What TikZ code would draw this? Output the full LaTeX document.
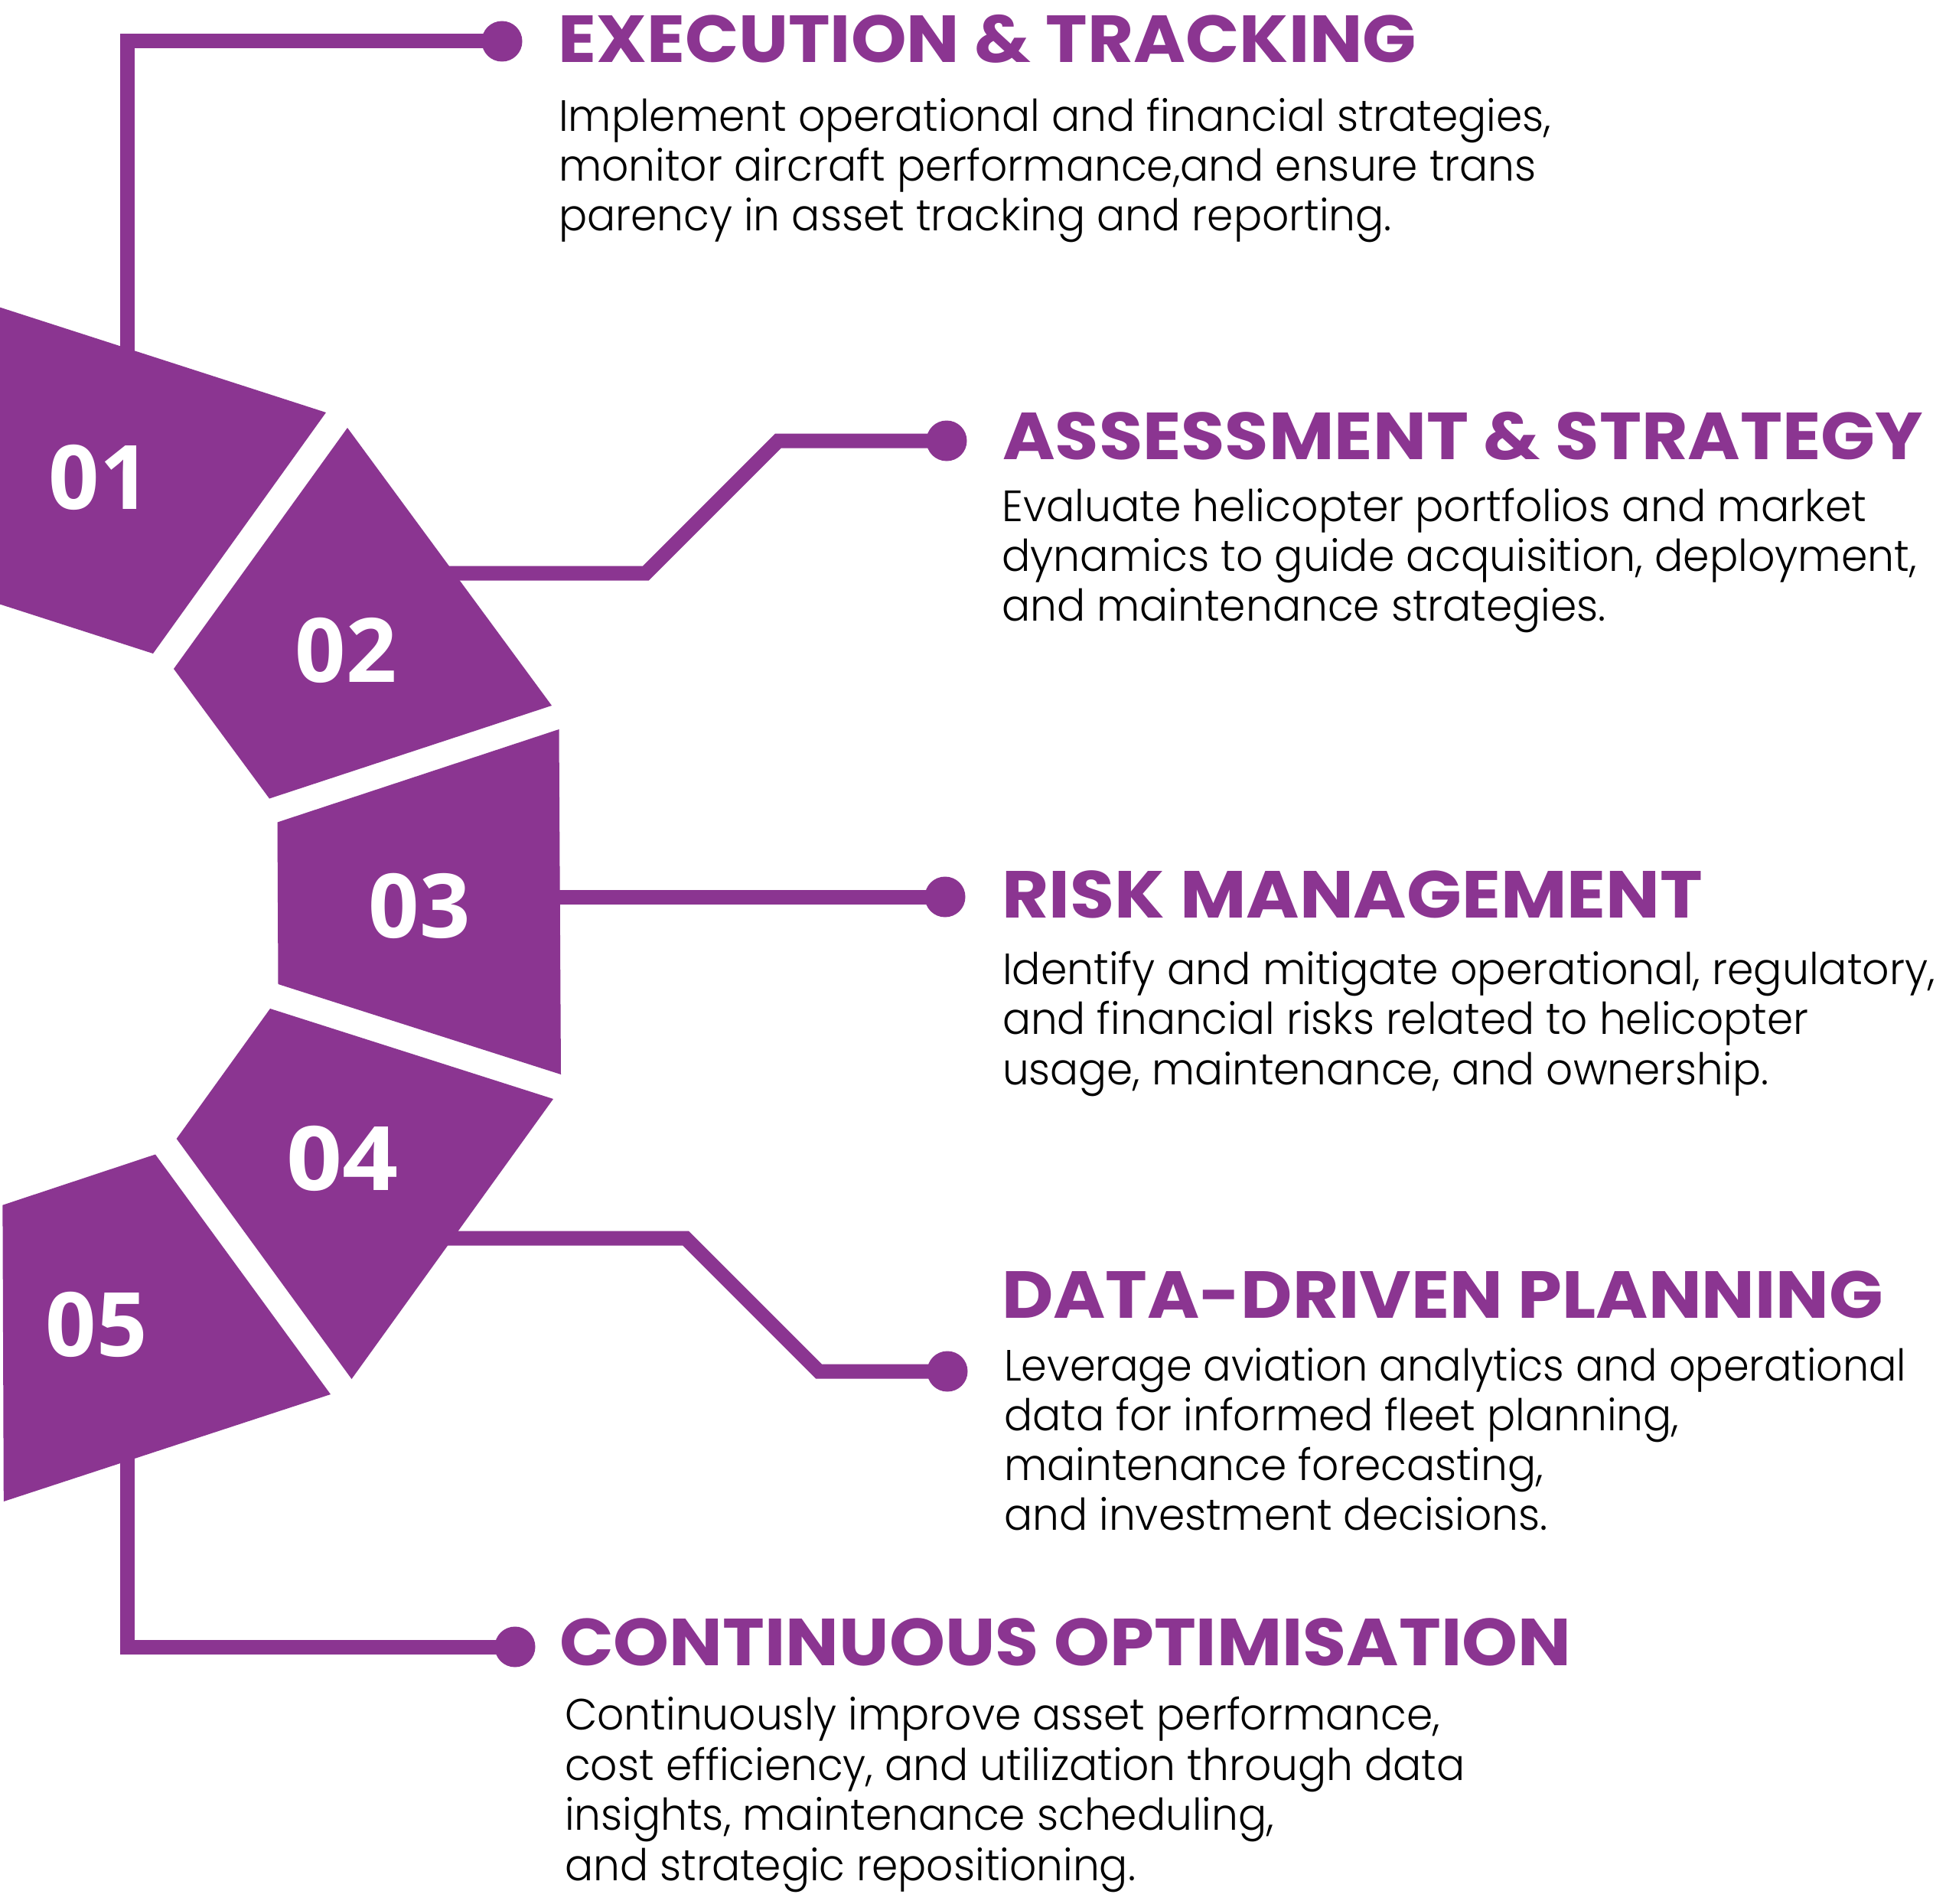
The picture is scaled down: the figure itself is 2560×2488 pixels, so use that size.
\documentclass[tikz,border=0pt]{standalone}
\usepackage{fontspec}
\usepackage{graphicx}
\setmainfont{Poppins}
\IfFontExistsTF{Poppins Light}{\newfontfamily\bodyfamily{Poppins Light}}{\newfontfamily\bodyfamily{Poppins}}
\newfontfamily\numfamily{Open Sans}
\definecolor{brandpurple}{HTML}{8B3591}
\newsavebox\measbox
\newcommand\bx[1]{\scalebox{\bodyhs}[1]{#1}}
\newcommand\fitw[2]{\sbox\measbox{#2}\pgfmathsetmacro\fitratio{#1/\the\wd\measbox}\scalebox{\fitratio}[1]{\usebox\measbox}}
\newcommand\headstyle{\fontsize{\headsize}{\headsize}\selectfont\bfseries}
\newcommand\bodystyle{\bodyfamily\fontsize{\bodysize}{\bodysize}\selectfont}
\newcommand\numstyle{\numfamily\fontsize{\numsize}{\numsize}\selectfont\bfseries}
\tikzset{
  headtext/.style={anchor=base west, inner sep=0pt, text=brandpurple, font=\headstyle},
  bodytext/.style={anchor=base west, inner sep=0pt, text=black, font=\bodystyle},
  numtext/.style={anchor=center, inner sep=0pt, text=white, font=\numstyle},
  conn/.style={draw=brandpurple, line width=19pt, line join=miter},
  dotend/.style={circle, fill=brandpurple, minimum size=53pt, inner sep=0pt},
  stepshape/.style={fill=brandpurple}
}
\begin{document}%
\sbox\measbox{\fontsize{100}{100}\selectfont\bfseries H}%
\pgfmathsetmacro\headsize{100*61/\the\ht\measbox}%
\sbox\measbox{\bodyfamily\fontsize{100}{100}\selectfont H}%
\pgfmathsetmacro\bodysize{100*40/\the\ht\measbox}%
\sbox\measbox{\numfamily\fontsize{100}{100}\selectfont\bfseries 1}%
\pgfmathsetmacro\numsize{100*83/\the\ht\measbox}%
\sbox\measbox{\bodystyle Implement operational and financial strategies,}%
\pgfmathsetmacro\bodyhs{1297/\the\wd\measbox}%
\begin{tikzpicture}[x=1pt,y=-1pt]
\useasboundingbox[fill=white] (0,0) rectangle (2560,2488);

% --- end dots -------------------------------------------------------
\node[dotend] (d1) at (656,54) {};
\node[dotend] (d2) at (1237,576) {};
\node[dotend] (d3) at (1235,1172) {};
\node[dotend] (d4) at (1238,1792) {};
\node[dotend] (d5) at (673,2152) {};

% --- connector anchor points ---------------------------------------
\coordinate (c1s) at (166,480);
\coordinate (c1a) at (166,54);
\coordinate (c2s) at (560,749);
\coordinate (c2a) at (844,749);
\coordinate (c2b) at (1017,576);
\coordinate (c3s) at (700,1172);
\coordinate (c4s) at (560,1618);
\coordinate (c4a) at (896,1618);
\coordinate (c4b) at (1070,1792);
\coordinate (c5s) at (166,1880);
\coordinate (c5a) at (166,2152);

\draw[conn] (c1s) -- (c1a) -- (d1.center);
\draw[conn] (c2s) -- (c2a) -- (c2b) -- (d2.center);
\draw[conn] (c3s) -- (d3.center);
\draw[conn] (c4s) -- (c4a) -- (c4b) -- (d4.center);
\draw[conn] (c5s) -- (c5a) -- (d5.center);

% --- step shapes ----------------------------------------------------
\fill[stepshape] (-5,400) -- (426,539) -- (200,854) -- (-5,788) -- cycle;
\fill[stepshape] (454,559) -- (721,922) -- (352,1043.5) -- (227,874) -- cycle;
\fill[stepshape] (730.5,953) -- (733,1404) -- (363.5,1286) -- (362.5,1074.5) -- cycle;
\fill[stepshape] (353,1318) -- (723,1436) -- (459.5,1802) -- (230.7,1488) -- cycle;
\fill[stepshape] (203,1508.5) -- (432,1822) -- (4.8,1962) -- (3.4,1574.7) -- cycle;

% --- numbers --------------------------------------------------------
\node[numtext] (n1) at (130,624) {01};
\node[numtext] (n2) at (452,850) {02};
\node[numtext] (n3) at (548,1184) {03};
\node[numtext] (n4) at (447,1514) {\scalebox{1.1}[1]{04}};
\node[numtext] (n5) at (126,1731) {05};

% --- headings -------------------------------------------------------
\node[headtext] (h1) at (729,81.7) {\fitw{1122}{EXECUTION \& TRACKING}};
\node[headtext] (h2) at (1310,600) {\fitw{1203}{ASSESSMENT \& STRATEGY}};
\node[headtext] (h3) at (1309,1199.6) {\fitw{916}{RISK MANAGEMENT}};
\node[headtext] (h4) at (1309,1722) {\fitw{1152}{DATA-DRIVEN PLANNING}};
\node[headtext] (h5) at (731,2176) {\fitw{1322}{CONTINUOUS OPTIMISATION}};

% --- body texts -----------------------------------------------------
\node[bodytext] (b1a) at (730,171.7) {\bx{Implement operational and financial strategies,}};
\node[bodytext] (b1b) at (730,236.7) {\bx{monitor aircraft performance,and ensure trans}};
\node[bodytext] (b1c) at (730,301.7) {\bx{parency in asset tracking and reporting.}};

\node[bodytext] (b2a) at (1309,681) {\fitw{1130}{Evaluate helicopter portfolios and market}};
\node[bodytext] (b2b) at (1309,746.7) {\fitw{1196}{dynamics to guide acquisition, deployment,}};
\node[bodytext] (b2c) at (1309,811.7) {\bx{and maintenance strategies.}};

\node[bodytext] (b3a) at (1310,1286.7) {\fitw{1219}{Identify and mitigate operational, regulatory,}};
\node[bodytext] (b3b) at (1310,1351.4) {\fitw{1053}{and financial risks related to helicopter}};
\node[bodytext] (b3c) at (1310,1417) {\fitw{1001}{usage, maintenance, and ownership.}};

\node[bodytext] (b4a) at (1312,1804.5) {\fitw{1179}{Leverage aviation analytics and operational}};
\node[bodytext] (b4b) at (1312,1869) {\bx{data for informed fleet planning,}};
\node[bodytext] (b4c) at (1312,1934.8) {\bx{maintenance forecasting,}};
\node[bodytext] (b4d) at (1312,1999.5) {\bx{and investment decisions.}};

\node[bodytext] (b5a) at (738,2260.7) {\bx{Continuously improve asset performance,}};
\node[bodytext] (b5b) at (738,2326) {\bx{cost efficiency, and utilization through data}};
\node[bodytext] (b5c) at (738,2391.7) {\bx{insights, maintenance scheduling,}};
\node[bodytext] (b5d) at (738,2457) {\bx{and strategic repositioning.}};
\end{tikzpicture}%
\end{document}
